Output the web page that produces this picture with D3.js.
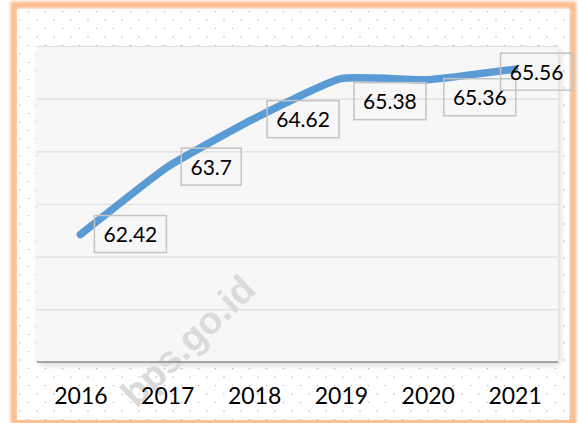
<!DOCTYPE html>
<html>
<head>
<meta charset="utf-8">
<script src="https://cdn.jsdelivr.net/npm/d3@7"></script>
<style>
  body { margin: 0; background: #fff; }
  svg { display: block; font-family: Lato, "Noto Sans", sans-serif; }
</style>
</head>
<body>
<svg id="chart"></svg>
<script>
// data
var years = ["2016", "2017", "2018", "2019", "2020", "2021"];
var values = [62.42, 63.7, 64.62, 65.38, 65.36, 65.56];
var yTicks = [60, 61, 62, 63, 64, 65, 66];

// label box offsets from each point (layout only)
var labelShift = [[50, 0], [44, 0], [49, 1], [49, 23], [52, 18], [22, 3]];

function drawChart(width, height) {
  var svg = d3.select("#chart")
    .attr("width", width)
    .attr("height", height);

  var defs = svg.append("defs");

  // dotted background like the office pattern fill
  var pat = defs.append("pattern")
    .attr("id", "dots")
    .attr("patternUnits", "userSpaceOnUse")
    .attr("width", 17)
    .attr("height", 17);
  pat.append("circle").attr("cx", 3).attr("cy", 3).attr("r", 0.8).attr("fill", "#bdbdbd");
  pat.append("circle").attr("cx", 11.5).attr("cy", 11.5).attr("r", 0.8).attr("fill", "#bdbdbd");

  var glow = defs.append("filter").attr("id", "glow")
    .attr("x", "-5%").attr("y", "-5%").attr("width", "110%").attr("height", "110%");
  glow.append("feGaussianBlur").attr("stdDeviation", 1.5);

  var shadow = defs.append("filter").attr("id", "shadow")
    .attr("x", "-5%").attr("y", "-5%").attr("width", "115%").attr("height", "115%");
  shadow.append("feDropShadow")
    .attr("dx", 2).attr("dy", 3).attr("stdDeviation", 3)
    .attr("flood-color", "#000").attr("flood-opacity", 0.16);

  // outer orange frame
  svg.append("rect")
    .attr("x", 14).attr("y", 5)
    .attr("width", width - 19).attr("height", height - 7)
    .attr("fill", "none")
    .attr("stroke", "#fbbd8f")
    .attr("stroke-width", 7)
    .attr("filter", "url(#glow)");

  svg.append("rect")
    .attr("x", 17).attr("y", 9)
    .attr("width", width - 26).attr("height", height - 12)
    .attr("fill", "#fff");
  svg.append("rect")
    .attr("x", 17).attr("y", 9)
    .attr("width", width - 26).attr("height", height - 12)
    .attr("fill", "url(#dots)");

  var margin = { top: 46, right: 20, bottom: 61, left: 37 };
  var chartWidth = width - margin.left - margin.right;
  var chartHeight = height - margin.top - margin.bottom;

  var g = svg.append("g")
    .attr("transform", `translate(${margin.left},${margin.top})`);

  // plot area
  g.append("rect")
    .attr("width", chartWidth)
    .attr("height", chartHeight)
    .attr("fill", "#f8f7f8")
    .attr("filter", "url(#shadow)");

  var xScale = d3.scalePoint()
    .domain(years)
    .range([0, chartWidth])
    .padding(0.5);

  var yScale = d3.scaleLinear()
    .domain([d3.min(yTicks), d3.max(yTicks)])
    .range([chartHeight, 0]);

  // gridlines
  g.append("g").classed("grid", true)
    .call(d3.axisLeft(yScale).tickValues(yTicks).tickSize(-chartWidth).tickFormat(""))
    .call(s => s.select(".domain").remove())
    .call(s => s.selectAll("line").attr("stroke", "#dedede").attr("stroke-width", 1.2));

  // watermark, under the tick labels
  svg.append("text")
    .attr("transform", "translate(190,343) rotate(-44)")
    .attr("text-anchor", "middle")
    .attr("dominant-baseline", "middle")
    .style("font-size", "38px")
    .style("font-weight", "bold")
    .style("font-family", "Arial, 'Liberation Sans', sans-serif")
    .attr("fill", "#dadada")
    .text("bps.go.id");

  // x axis
  var xAxis = svg.append("g")
    .attr("transform", `translate(${margin.left},${margin.top + chartHeight})`)
    .call(d3.axisBottom(xScale).tickSize(0).tickPadding(26));
  xAxis.select(".domain").attr("stroke", "#8c8c8c").attr("stroke-width", 1.5)
    .attr("d", `M0,0H${chartWidth}`);
  xAxis.selectAll("text")
    .attr("fill", "#000")
    .style("font-size", "23px")
    .style("font-family", "Lato, 'Noto Sans', sans-serif");

  var plot = svg.append("g")
    .attr("transform", `translate(${margin.left},${margin.top})`);

  // line
  var line = d3.line()
    .x((d, i) => xScale(years[i]))
    .y(d => yScale(d))
    .curve(d3.curveCardinal.tension(0.55));

  plot.append("path")
    .datum(values)
    .attr("d", line)
    .attr("fill", "none")
    .attr("stroke", "#5b9bd5")
    .attr("stroke-width", 7.5)
    .attr("stroke-linecap", "round")
    .attr("stroke-linejoin", "round");

  // data labels
  var labels = plot.selectAll(".lbl")
    .data(values)
    .enter()
    .append("g")
    .classed("lbl", true)
    .attr("transform", (d, i) =>
      `translate(${xScale(years[i]) + labelShift[i][0]},${yScale(d) + labelShift[i][1]})`);

  labels.append("rect")
    .attr("x", -36).attr("y", -19)
    .attr("width", 72).attr("height", 37)
    .attr("fill", "none")
    .attr("stroke", "#c4c4c4")
    .attr("stroke-width", 1.5);

  labels.append("text")
    .attr("text-anchor", "middle")
    .attr("dy", "0.36em")
    .style("font-size", "21px")
    .attr("fill", "#000")
    .text(d => d);

  // narrow box for 63.7
  labels.filter(d => String(d).length < 5).select("rect")
    .attr("x", -30).attr("width", 60);
}

drawChart(578, 423);
</script>
</body>
</html>
